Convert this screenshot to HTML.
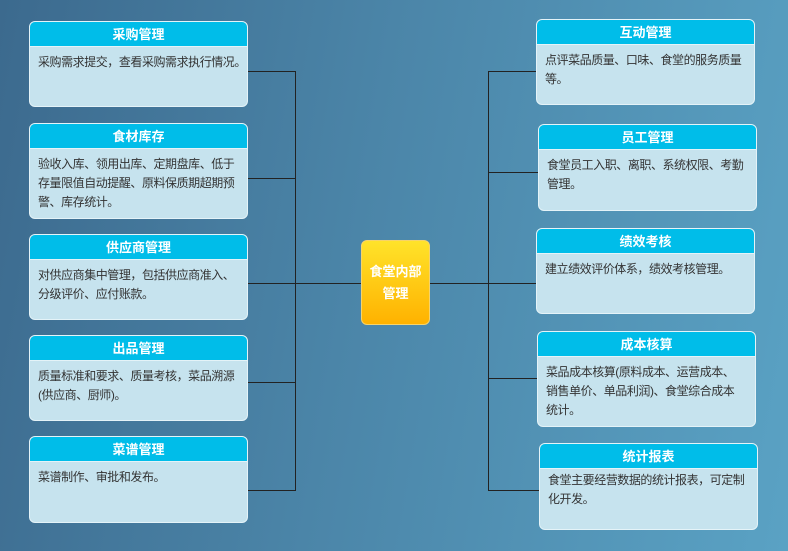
<!DOCTYPE html>
<html><head><meta charset="utf-8"><style>
*{margin:0;padding:0;box-sizing:border-box}
body{width:788px;height:551px;overflow:hidden;position:relative;
background:linear-gradient(100deg,#3c6a8e 0%,#4b85a8 45%,#5aa2c4 100%);
font-family:"Liberation Sans","Noto Sans CJK SC",sans-serif}
.b{position:absolute;background:#c6e3ee;border:1px solid #e4f3f8;border-radius:6px;overflow:hidden;width:219px}
.h{height:25px;background:#00bde9;color:#fff;font-weight:bold;font-size:13px;line-height:25px;text-align:center;border-bottom:1px solid #e4f3f8}
.t{font-size:12px;line-height:19px;color:#333;padding:6px 0 0 8px;letter-spacing:-0.45px;width:218px}
.l{position:absolute;background:#222}
.c{position:absolute;left:361px;top:240px;width:69px;height:85px;border-radius:6px;border:1px solid #f7d36a;
background:linear-gradient(#ffe32a,#ffb200);color:#fff;font-weight:bold;font-size:13px;line-height:22px;text-align:center;padding-top:20px}
</style></head><body>
<div class="l" style="left:295px;top:71px;width:1px;height:420px"></div>
<div class="l" style="left:488px;top:71px;width:1px;height:420px"></div>
<div class="l" style="left:295px;top:283px;width:194px;height:1px"></div>
<div class="l" style="left:247px;top:71px;width:48px;height:1px"></div>
<div class="l" style="left:247px;top:178px;width:48px;height:1px"></div>
<div class="l" style="left:247px;top:283px;width:48px;height:1px"></div>
<div class="l" style="left:247px;top:382px;width:48px;height:1px"></div>
<div class="l" style="left:247px;top:490px;width:48px;height:1px"></div>
<div class="l" style="left:488px;top:71px;width:48px;height:1px"></div>
<div class="l" style="left:488px;top:172px;width:50px;height:1px"></div>
<div class="l" style="left:488px;top:283px;width:48px;height:1px"></div>
<div class="l" style="left:488px;top:378px;width:49px;height:1px"></div>
<div class="l" style="left:488px;top:490px;width:51px;height:1px"></div>

<div class="b" style="left:29px;top:21px;height:86px"><div class="h">采购管理</div><div class="t">采购需求提交，查看采购需求执行情况。</div></div>
<div class="b" style="left:29px;top:123px;height:96px"><div class="h">食材库存</div><div class="t">验收入库、领用出库、定期盘库、低于<br>存量限值自动提醒、原料保质期超期预<br>警、库存统计。</div></div>
<div class="b" style="left:29px;top:234px;height:86px"><div class="h">供应商管理</div><div class="t">对供应商集中管理，包括供应商准入、<br>分级评价、应付账款。</div></div>
<div class="b" style="left:29px;top:335px;height:86px"><div class="h">出品管理</div><div class="t">质量标准和要求、质量考核，菜品溯源<br>(供应商、厨师)。</div></div>
<div class="b" style="left:29px;top:436px;height:87px"><div class="h">菜谱管理</div><div class="t">菜谱制作、审批和发布。</div></div>

<div class="b" style="left:536px;top:19px;height:86px"><div class="h">互动管理</div><div class="t">点评菜品质量、口味、食堂的服务质量<br>等。</div></div>
<div class="b" style="left:538px;top:124px;height:87px"><div class="h">员工管理</div><div class="t">食堂员工入职、离职、系统权限、考勤<br>管理。</div></div>
<div class="b" style="left:536px;top:228px;height:86px"><div class="h">绩效考核</div><div class="t">建立绩效评价体系，绩效考核管理。</div></div>
<div class="b" style="left:537px;top:331px;height:96px"><div class="h">成本核算</div><div class="t">菜品成本核算(原料成本、运营成本、<br>销售单价、单品利润)、食堂综合成本<br>统计。</div></div>
<div class="b" style="left:539px;top:443px;height:87px"><div class="h">统计报表</div><div class="t" style="padding-top:2px">食堂主要经营数据的统计报表，可定制<br>化开发。</div></div>

<div class="c">食堂内部<br>管理</div>
</body></html>
